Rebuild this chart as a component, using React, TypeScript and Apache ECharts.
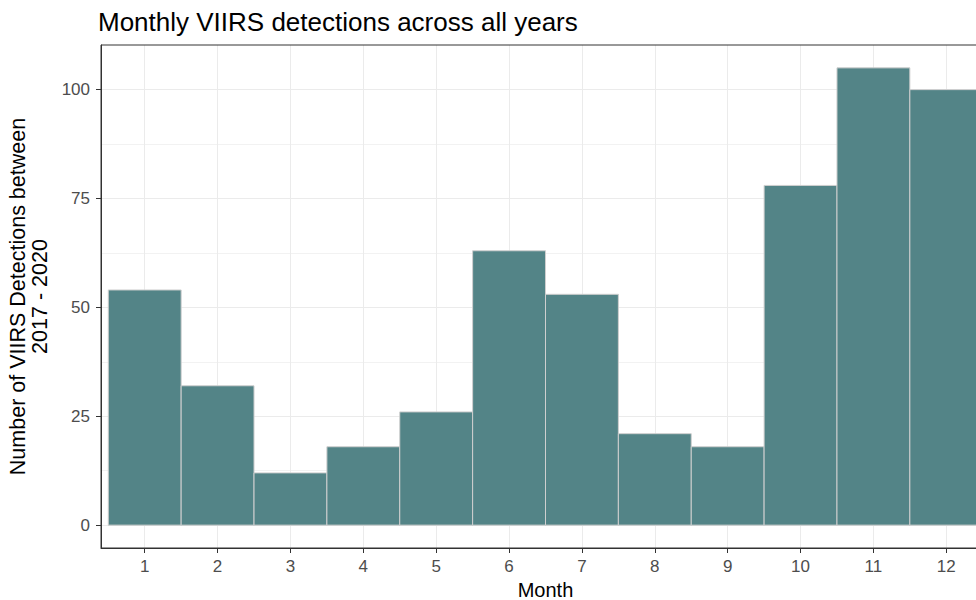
import React, { useEffect, useRef } from "react";
import * as echarts from "echarts";

const months = [1, 2, 3, 4, 5, 6, 7, 8, 9, 10, 11, 12];
const detections = [54, 32, 12, 18, 26, 63, 53, 21, 18, 78, 105, 100];
const yTicks = [0, 25, 50, 75, 100];
const yMinorTicks = [12.5, 37.5, 62.5, 87.5];
const xTickLabels = months.map(String);

export default function App() {
  const ref = useRef<HTMLDivElement>(null);
  useEffect(() => {
    if (!ref.current) return;
    const chart = echarts.init(ref.current, null, { renderer: "svg" });
    const font = "Liberation Sans, Arial, sans-serif";
    const data = months.map((m, i) => [m, detections[i]]);
    chart.setOption({
      animation: false,
      title: {
        text: "Monthly VIIRS detections across all years",
        left: 93,
        top: 4,
        textStyle: { fontFamily: font, fontSize: 26, fontWeight: "normal", color: "#000" },
      },
      grid: { left: 101, top: 45, width: 889, height: 503, outerBoundsMode: "none", containLabel: false },
      xAxis: [
        {
          type: "value",
          min: 0.4,
          max: 12.6,
          name: "Month",
          nameLocation: "middle",
          nameGap: 28,
          nameTextStyle: { fontFamily: font, fontSize: 20, color: "#000", lineHeight: 20 },
          axisLine: { show: true, onZero: false, lineStyle: { color: "#333", width: 1 } },
          axisTick: { show: true, length: 5, customValues: months, lineStyle: { color: "#333" } },
          axisLabel: {
            customValues: months,
            margin: 10,
            fontFamily: font,
            fontSize: 17,
            color: "#4d4d4d",
            formatter: (v: number) => xTickLabels[Math.round(v) - 1] ?? "",
          },
          splitLine: { show: true, lineStyle: { color: "#ebebeb", width: 1 } },
        },
      ],
      yAxis: [
        {
          type: "value",
          min: -5.25,
          max: 110.25,
          name: "Number of VIIRS Detections between\n2017 - 2020",
          nameLocation: "middle",
          nameRotate: 90,
          nameGap: 47,
          nameTextStyle: { fontFamily: font, fontSize: 21.5, color: "#000", lineHeight: 22, align: "center" },
          axisLine: { show: true, onZero: false, lineStyle: { color: "#333", width: 1 } },
          axisTick: { show: true, length: 5, customValues: yTicks, lineStyle: { color: "#333" } },
          axisLabel: { customValues: yTicks, margin: 11, fontFamily: font, fontSize: 17, color: "#4d4d4d" },
          splitLine: { show: true, lineStyle: { color: "#ebebeb", width: 1 } },
        },
        {
          type: "value",
          min: -5.25,
          max: 110.25,
          position: "left",
          axisLine: { show: false },
          axisTick: { show: false, customValues: yMinorTicks },
          axisLabel: { show: false, customValues: yMinorTicks },
          splitLine: { show: true, lineStyle: { color: "#efefef", width: 0.8 } },
        },
      ],
      graphic: [
        {
          type: "rect",
          shape: { x: 101, y: 45, width: 889, height: 503 },
          style: { fill: "none", stroke: "#333", lineWidth: 1 },
          z: 100,
          silent: true,
        },
      ],
      series: [
        {
          type: "custom",
          xAxisIndex: 0,
          yAxisIndex: 0,
          data,
          clip: true,
          renderItem: (params: any, api: any) => {
            const m = api.value(0);
            const v = api.value(1);
            const p0 = api.coord([m - 0.5, v]);
            const p1 = api.coord([m + 0.5, 0]);
            return {
              type: "rect",
              shape: { x: p0[0], y: p0[1], width: p1[0] - p0[0], height: p1[1] - p0[1] },
              style: { fill: "#538487", stroke: "#cfcfcf", lineWidth: 1 },
            };
          },
        },
      ],
    });
    return () => chart.dispose();
  }, []);
  return <div ref={ref} style={{ width: 976, height: 600, position: "absolute", left: 0, top: 0 }} />;
}
